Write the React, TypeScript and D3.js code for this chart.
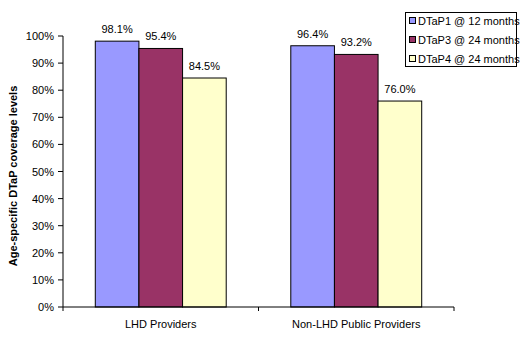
import React from "react";
import * as d3 from "d3";

const categories = ["LHD Providers", "Non-LHD Public Providers"];
const seriesNames = ["DTaP1 @ 12 months", "DTaP3 @ 24 months", "DTaP4 @ 24 months"];
const dtap1 = [98.1, 96.4];
const dtap3 = [95.4, 93.2];
const dtap4 = [84.5, 76.0];
const yTicks = [0, 10, 20, 30, 40, 50, 60, 70, 80, 90, 100];
const colors = ["#9999FF", "#993366", "#FFFFCC"];

export default function App() {
  const W = 528, H = 341;
  const left = 63, right = 454, top = 36, bottom = 307;
  const series = [dtap1, dtap3, dtap4];
  const x0 = d3.scaleBand<string>().domain(categories).range([left, right]).paddingInner(0).paddingOuter(0);
  const x1 = d3.scaleBand<number>().domain([0, 1, 2]).range([0, x0.bandwidth()]).paddingInner(0).paddingOuter(0.74);
  const y = d3.scaleLinear().domain([0, 100]).range([bottom, top]);
  const font = "Liberation Sans, Arial, sans-serif";
  return (
    <svg width={W} height={H} style={{ position: "absolute", left: 0, top: 0 }} fontFamily={font}>
      <rect x={0} y={0} width={W} height={H} fill="#fff" />
      {categories.map((c, ci) =>
        series.map((s, si) => {
          const bx = (x0(c) as number) + (x1(si) as number);
          const by = y(s[ci]);
          return (
            <g key={c + si}>
              <rect x={bx} y={by} width={x1.bandwidth()} height={bottom - by} fill={colors[si]} stroke="#000" strokeWidth={1} />
              <text x={bx + x1.bandwidth() / 2} y={by - 8} textAnchor="middle" fontSize={11}>{s[ci].toFixed(1)}%</text>
            </g>
          );
        })
      )}
      <line x1={left} x2={left} y1={top} y2={bottom} stroke="#000" />
      {yTicks.map((t) => (
        <g key={t}>
          <line x1={left - 5} x2={left} y1={y(t)} y2={y(t)} stroke="#000" />
          <text x={left - 9} y={y(t) + 4} textAnchor="end" fontSize={11}>{t}%</text>
        </g>
      ))}
      <line x1={left} x2={right} y1={bottom} y2={bottom} stroke="#000" />
      {[left, ...categories.map((c) => (x0(c) as number) + x0.bandwidth())].map((tx, i) => (
        <line key={i} x1={tx} x2={tx} y1={bottom} y2={bottom + 4} stroke="#000" />
      ))}
      {categories.map((c) => (
        <text key={c} x={(x0(c) as number) + x0.bandwidth() / 2} y={328} textAnchor="middle" fontSize={11}>{c}</text>
      ))}
      <text transform={`translate(17,176) rotate(-90)`} textAnchor="middle" fontSize={11} fontWeight="bold">Age-specific DTaP coverage levels</text>
      <rect x={405.5} y={12.5} width={111} height={54} fill="#fff" stroke="#000" />
      {seriesNames.map((n, i) => (
        <g key={n}>
          <rect x={409.5} y={17.5 + i * 19} width={6} height={6} fill={colors[i]} stroke="#000" />
          <text x={418} y={24.5 + i * 19} fontSize={11}>{n}</text>
        </g>
      ))}
    </svg>
  );
}
